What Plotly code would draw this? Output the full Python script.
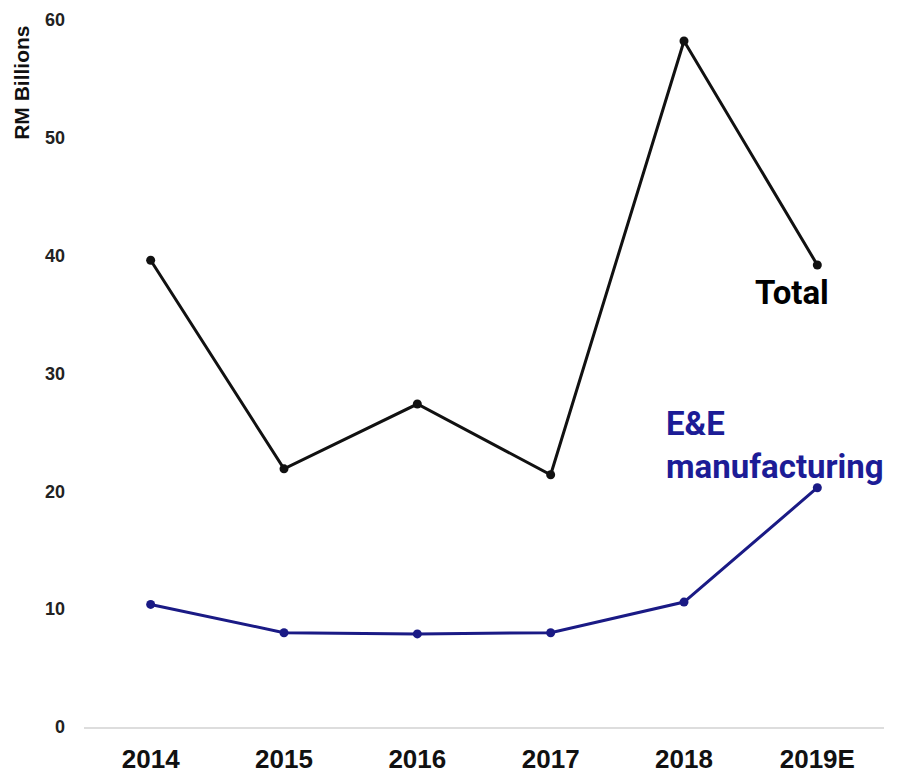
import plotly.graph_objects as go

years = ["2014", "2015", "2016", "2017", "2018", "2019E"]
total = [39.6, 21.9, 27.4, 21.4, 58.2, 39.2]
ee_manufacturing = [10.4, 8.0, 7.9, 8.0, 10.6, 20.3]
y_ticks = [0, 10, 20, 30, 40, 50, 60]

fig = go.Figure()
fig.add_trace(go.Scatter(
    x=years, y=total, mode="lines+markers", name="Total",
    line=dict(color="#111111", width=3),
    marker=dict(color="#111111", size=9),
))
fig.add_trace(go.Scatter(
    x=years, y=ee_manufacturing, mode="lines+markers", name="E&E manufacturing",
    line=dict(color="#1a1a85", width=3),
    marker=dict(color="#1a1a85", size=9),
))

# Series labels beside the last point
fig.add_annotation(
    x="2019E", y=total[-1], text="<b>Total</b>", showarrow=False,
    xanchor="center", yanchor="middle", yshift=-28, xshift=-25,
    font=dict(family="Roboto", size=33, color="#000000"),
)
fig.add_annotation(
    x="2019E", y=ee_manufacturing[-1], text="<b>E&E<br>manufacturing</b>",
    showarrow=False, xanchor="left", yanchor="middle", align="left",
    xshift=-153, yshift=43,
    font=dict(family="Roboto", size=33, color="#1c1c96"),
)

# Unit label at the top of the value axis
fig.add_annotation(
    xref="paper", yref="paper", x=-0.079, y=1.0,
    text="<b>RM Billions</b>", textangle=-90, showarrow=False,
    xanchor="center", yanchor="top", yshift=-16,
    font=dict(family="Liberation Sans", size=21, color="#111111"),
)

fig.update_layout(
    width=897, height=777,
    margin=dict(l=84, r=13, t=8, b=50),
    paper_bgcolor="white", plot_bgcolor="white",
    showlegend=False,
    xaxis=dict(
        type="category", range=[-0.5, 5.5], automargin=False,
        showgrid=False, zeroline=False,
        showline=True, linecolor="#dddddd", linewidth=2,
        ticks="", ticklabelstandoff=8,
        tickfont=dict(family="Liberation Sans", size=26, color="#111111", weight="bold"),
    ),
    yaxis=dict(
        range=[0, 61], tickvals=y_ticks, automargin=False,
        showgrid=False, zeroline=False, showline=False,
        ticks="", ticklabelstandoff=18,
        tickfont=dict(family="Liberation Sans", size=18, color="#222222", weight="bold"),
    ),
)

fig.write_html("out.html")
